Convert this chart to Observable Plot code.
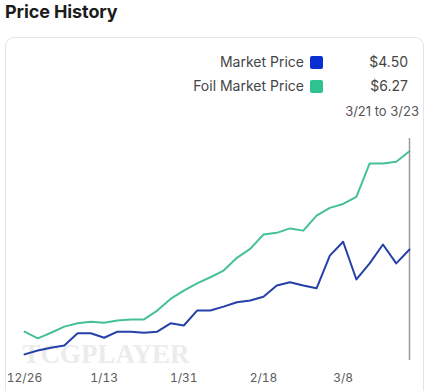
<!DOCTYPE html>
<html>
<head>
<meta charset="utf-8">
<script src="https://cdn.jsdelivr.net/npm/d3@7"></script>
<script src="https://cdn.jsdelivr.net/npm/@observablehq/plot@0.6"></script>
<style>
  html, body { margin: 0; padding: 0; background: #fff; width: 433px; height: 391px; overflow: hidden; font-family: Inter, "Noto Sans", sans-serif; }
  #title { position: absolute; left: 5px; top: 0px; font-size: 18px; font-weight: 700; color: #1c1c1c; line-height: 24px; letter-spacing: -0.1px; }
  #card { position: absolute; left: 5px; top: 37px; width: 419px; height: 380px; border: 1px solid #e4e4e4; border-radius: 9px; box-sizing: border-box; }
  .lg { position: absolute; font-size: 14px; color: #454545; line-height: 16px; white-space: nowrap; }
  .sw { position: absolute; width: 13px; height: 13px; border-radius: 2px; }
  #chart { position: absolute; left: 0; top: 128px; }
</style>
</head>
<body>
<div id="title">Price History</div>
<div id="card"></div>
<div id="legend"></div>
<div id="chart"></div>
<script>
const dates = ["2022-12-26","2022-12-29","2023-01-01","2023-01-04","2023-01-07","2023-01-10","2023-01-13","2023-01-16","2023-01-19","2023-01-22","2023-01-25","2023-01-28","2023-01-31","2023-02-03","2023-02-06","2023-02-09","2023-02-12","2023-02-15","2023-02-18","2023-02-21","2023-02-24","2023-02-27","2023-03-02","2023-03-05","2023-03-08","2023-03-11","2023-03-14","2023-03-17","2023-03-20","2023-03-23"];
const marketPrice = [2.61,2.68,2.73,2.77,2.99,2.99,2.91,3.02,3.02,3.00,3.02,3.17,3.13,3.40,3.40,3.47,3.55,3.58,3.65,3.85,3.91,3.85,3.80,4.39,4.64,3.96,4.25,4.59,4.25,4.50];
const foilMarketPrice = [3.02,2.90,3.00,3.11,3.17,3.20,3.18,3.22,3.24,3.24,3.40,3.61,3.76,3.89,4.00,4.12,4.35,4.51,4.77,4.80,4.88,4.84,5.11,5.25,5.32,5.45,6.05,6.05,6.08,6.27];
const seriesNames = ["Market Price","Foil Market Price"];
const seriesColors = ["#2540a8","#45c195"];
const swatchColors = ["#0b2fd0","#2ec28e"];
const currentValues = ["$4.50","$6.27"];
const rangeLabel = "3/21 to 3/23";
const tickDates = ["2022-12-26","2023-01-13","2023-01-31","2023-02-18","2023-03-08"];
const watermark = "TCGPLAYER";

const parse = d3.utcParse("%Y-%m-%d");
const rows = [];
dates.forEach((d, i) => {
  rows.push({date: parse(d), value: marketPrice[i], series: seriesNames[0]});
  rows.push({date: parse(d), value: foilMarketPrice[i], series: seriesNames[1]});
});

// Legend
const legend = document.getElementById("legend");
const rowsY = [54, 78];
seriesNames.forEach((name, i) => {
  const t = document.createElement("div");
  t.className = "lg"; t.textContent = name;
  t.style.right = (433 - 304) + "px"; t.style.top = rowsY[i] + "px";
  legend.appendChild(t);
  const s = document.createElement("div");
  s.className = "sw"; s.style.background = swatchColors[i];
  s.style.left = "310px"; s.style.top = (rowsY[i] + 2) + "px";
  legend.appendChild(s);
  const v = document.createElement("div");
  v.className = "lg"; v.textContent = currentValues[i];
  v.style.right = (433 - 408) + "px"; v.style.top = rowsY[i] + "px";
  legend.appendChild(v);
});
const r = document.createElement("div");
r.className = "lg"; r.textContent = rangeLabel; r.style.fontSize = "13px"; r.style.color = "#555";
r.style.right = (433 - 419) + "px"; r.style.top = "103px";
legend.appendChild(r);

const lastDate = parse(dates[dates.length - 1]);
const chart = Plot.plot({
  width: 433,
  height: 263,
  marginLeft: 24,
  marginRight: 24,
  marginTop: 10,
  marginBottom: 31,
  style: {fontFamily: "Inter, sans-serif", fontSize: "12px", color: "#5a5a5a", background: "transparent"},
  x: {type: "utc", domain: [parse(dates[0]), lastDate], ticks: tickDates.map(parse), tickFormat: d3.utcFormat("%-m/%-d"), tickSize: 0, tickPadding: 13, label: null},
  y: {domain: [2.5, 6.5], axis: null},
  color: {domain: seriesNames, range: seriesColors},
  marks: [
    Plot.text([watermark], {frameAnchor: "bottom-left", dx: -2, dy: 2, lineAnchor: "bottom", text: d => d, fontSize: 27, fontWeight: "bold", fontFamily: "Liberation Serif, serif", fill: "#ececec"}),
    Plot.ruleX([lastDate], {stroke: "#9a9a9a", strokeWidth: 1.5}),
    Plot.line(rows.filter(d => d.series === seriesNames[1]), {x: "date", y: "value", stroke: "series", strokeWidth: 2}),
    Plot.line(rows.filter(d => d.series === seriesNames[0]), {x: "date", y: "value", stroke: "series", strokeWidth: 2})
  ]
});
document.getElementById("chart").appendChild(chart);
</script>
</body>
</html>
